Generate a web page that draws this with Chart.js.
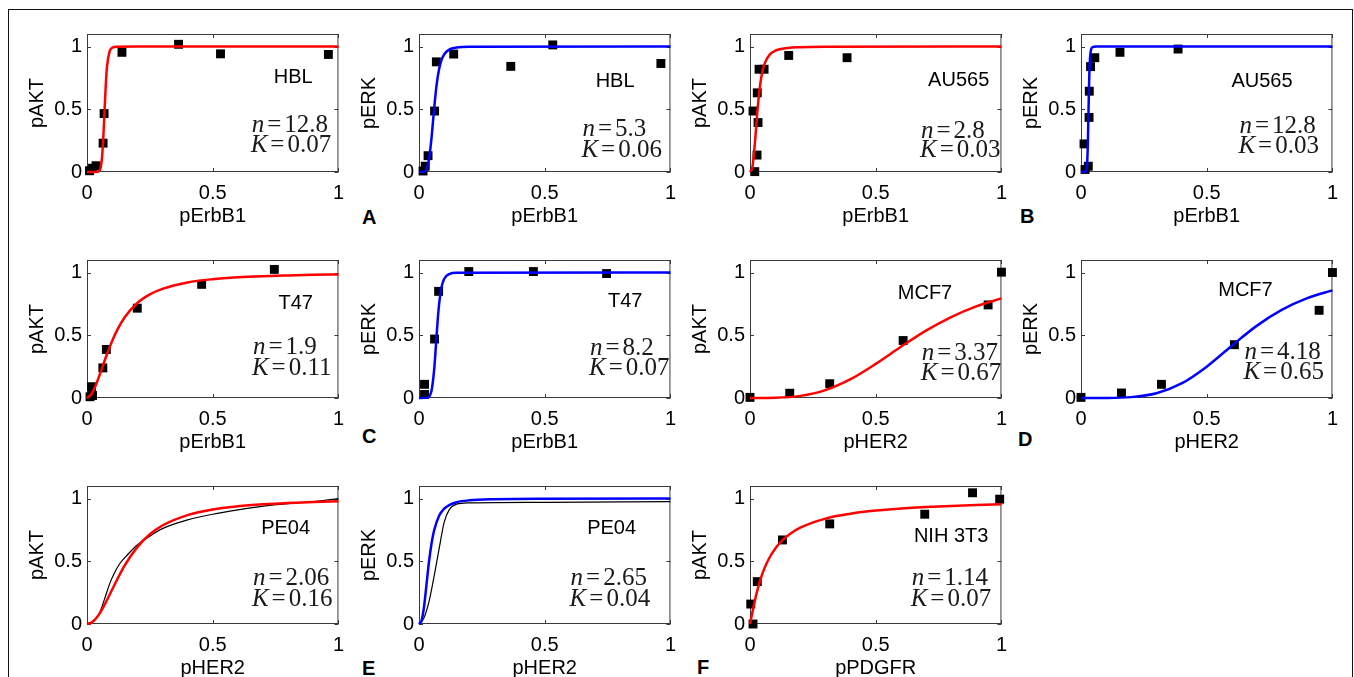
<!DOCTYPE html>
<html>
<head>
<meta charset="utf-8">
<script src="https://cdn.jsdelivr.net/npm/chart.js@4/dist/chart.umd.min.js"></script>
<style>
  body { margin: 0; background: #fff; width: 1354px; height: 677px; overflow: hidden; position: relative; }
  #frame { position: absolute; left: 8px; top: 9px; width: 1343px; height: 720px; border: 1.5px solid #111; }
  canvas { position: absolute; }
  .tag { position: absolute; font: bold 20px "Liberation Sans", Arial, sans-serif; line-height: 20px; color: #000; }
</style>
</head>
<body>
<div id="frame"></div>
<div class="tag" style="left:362px; top:207px">A</div>
<div class="tag" style="left:1020px; top:206px">B</div>
<div class="tag" style="left:362px; top:426px">C</div>
<div class="tag" style="left:1018px; top:429px">D</div>
<div class="tag" style="left:362px; top:658px">E</div>
<div class="tag" style="left:697px; top:657px">F</div>
<script>
// tick values shared by every axis
const tickVals = [0, 0.5, 1];

// A - HBL
const hblAktData = [[0.01, 0.01], [0.022, 0.03], [0.036, 0.05], [0.064, 0.23], [0.068, 0.466], [0.139, 0.954], [0.364, 1.018], [0.531, 0.942], [0.96, 0.937]];
const hblAktFit = [[0, 0], [0.04, 0.002], [0.05, 0.013], [0.055, 0.04], [0.06, 0.122], [0.065, 0.279], [0.07, 0.5], [0.075, 0.707], [0.08, 0.847], [0.09, 0.961], [0.1, 0.99], [0.12, 0.999], [0.2, 1], [1, 1]];
const hblErkData = [[0.016, 0.008], [0.025, 0.046], [0.036, 0.13], [0.062, 0.486], [0.069, 0.878], [0.138, 0.94], [0.365, 0.842], [0.532, 1.013], [0.962, 0.865]];
const hblErkFit = [[0, 0], [0.02, 0.003], [0.03, 0.025], [0.04, 0.104], [0.05, 0.276], [0.06, 0.5], [0.07, 0.694], [0.08, 0.821], [0.09, 0.896], [0.1, 0.937], [0.12, 0.975], [0.15, 0.992], [0.2, 0.998], [1, 1]];

// B - AU565
const au565AktData = [[0.012, 0.486], [0.019, 0.003], [0.028, 0.135], [0.032, 0.394], [0.029, 0.631], [0.036, 0.819], [0.056, 0.819], [0.154, 0.929], [0.386, 0.911]];
const au565AktFit = [[0, 0], [0.01, 0.044], [0.02, 0.243], [0.03, 0.5], [0.04, 0.691], [0.05, 0.807], [0.06, 0.874], [0.08, 0.94], [0.1, 0.967], [0.15, 0.989], [0.2, 0.995], [0.3, 0.998], [1, 1]];
const au565ErkData = [[0.012, 0.224], [0.016, 0.02], [0.029, 0.046], [0.032, 0.435], [0.033, 0.644], [0.038, 0.84], [0.055, 0.911], [0.155, 0.954], [0.386, 0.98]];
const au565ErkFit = [[0, 0], [0.02, 0.006], [0.024, 0.054], [0.027, 0.206], [0.03, 0.5], [0.033, 0.772], [0.036, 0.912], [0.04, 0.975], [0.045, 0.994], [0.06, 1], [1, 1]];

// C - T47
const t47AktData = [[0.012, 0.01], [0.018, 0.09], [0.022, 0.02], [0.063, 0.24], [0.077, 0.387], [0.2, 0.716], [0.456, 0.906], [0.745, 1.025]];
const t47AktFit = [[0, 0], [0.02, 0.038], [0.04, 0.128], [0.06, 0.24], [0.08, 0.353], [0.1, 0.455], [0.12, 0.541], [0.15, 0.643], [0.2, 0.757], [0.25, 0.826], [0.3, 0.87], [0.4, 0.921], [0.5, 0.947], [0.6, 0.962], [0.7, 0.971], [0.8, 0.977], [0.9, 0.982], [1, 0.985]];
const t47ErkData = [[0.022, 0.028], [0.022, 0.109], [0.062, 0.47], [0.078, 0.85], [0.198, 1.008], [0.455, 1.008], [0.746, 0.992]];
const t47ErkFit = [[0, 0], [0.03, 0.001], [0.04, 0.01], [0.05, 0.059], [0.06, 0.22], [0.065, 0.35], [0.07, 0.5], [0.075, 0.638], [0.08, 0.749], [0.09, 0.887], [0.1, 0.949], [0.12, 0.988], [0.15, 0.998], [1, 1]];

// D - MCF7
const mcf7AktData = [[0, 0.005], [0.158, 0.038], [0.317, 0.114], [0.609, 0.458], [0.947, 0.742], [1, 1.003]];
const mcf7AktFit = [[0, 0], [0.1, 0.002], [0.2, 0.017], [0.3, 0.063], [0.4, 0.15], [0.5, 0.272], [0.6, 0.408], [0.7, 0.537], [0.8, 0.645], [0.9, 0.73], [1, 0.794]];
const mcf7ErkData = [[0, 0.005], [0.161, 0.04], [0.32, 0.109], [0.61, 0.425], [0.947, 0.699], [1, 1]];
const mcf7ErkFit = [[0, 0], [0.1, 0.0004], [0.2, 0.007], [0.3, 0.038], [0.4, 0.116], [0.5, 0.25], [0.6, 0.417], [0.7, 0.577], [0.8, 0.704], [0.9, 0.796], [1, 0.858]];

// E - PE04 (black = measured curve, colour = fit)
const pe04AktMeas = [[0, 0], [0.03, 0.03], [0.05, 0.09], [0.07, 0.2], [0.09, 0.32], [0.11, 0.41], [0.13, 0.48], [0.16, 0.55], [0.2, 0.63], [0.25, 0.7], [0.3, 0.76], [0.4, 0.83], [0.5, 0.875], [0.6, 0.91], [0.7, 0.94], [0.8, 0.96], [0.9, 0.975], [1, 1]];
const pe04AktFit = [[0, 0], [0.02, 0.014], [0.05, 0.083], [0.08, 0.193], [0.1, 0.275], [0.15, 0.467], [0.2, 0.613], [0.25, 0.715], [0.3, 0.785], [0.4, 0.868], [0.5, 0.913], [0.6, 0.938], [0.7, 0.954], [0.8, 0.965], [0.9, 0.972], [1, 0.978]];
const pe04ErkMeas = [[0, 0], [0.02, 0.05], [0.04, 0.18], [0.06, 0.38], [0.08, 0.6], [0.1, 0.81], [0.12, 0.91], [0.15, 0.955], [0.2, 0.965], [0.5, 0.97], [1, 0.975]];
const pe04ErkFit = [[0, 0], [0.01, 0.025], [0.02, 0.137], [0.03, 0.318], [0.04, 0.5], [0.05, 0.644], [0.06, 0.745], [0.08, 0.863], [0.1, 0.919], [0.12, 0.948], [0.15, 0.971], [0.2, 0.986], [0.3, 0.995], [0.5, 0.999], [1, 1]];

// F - NIH 3T3
const nihAktData = [[0.003, 0.159], [0.012, 0.0], [0.029, 0.338], [0.129, 0.67], [0.317, 0.798], [0.695, 0.875], [0.885, 1.046], [0.993, 0.995]];
const nihAktFit = [[0, 0], [0.01, 0.098], [0.02, 0.193], [0.04, 0.346], [0.06, 0.456], [0.08, 0.538], [0.1, 0.6], [0.13, 0.67], [0.17, 0.733], [0.2, 0.768], [0.3, 0.84], [0.4, 0.879], [0.5, 0.904], [0.6, 0.92], [0.7, 0.932], [0.8, 0.941], [0.9, 0.948], [1, 0.954]];

const cellNames = ['HBL', 'HBL', 'AU565', 'AU565', 'T47', 'T47', 'MCF7', 'MCF7', 'PE04', 'PE04', 'NIH 3T3'];
const hillN = ['12.8', '5.3', '2.8', '12.8', '1.9', '8.2', '3.37', '4.18', '2.06', '2.65', '1.14'];
const hillK = ['0.07', '0.06', '0.03', '0.03', '0.11', '0.07', '0.67', '0.65', '0.16', '0.04', '0.07'];

const RED = '#ff0000';
const BLUE = '#0000ff';
const sansFont = '"Liberation Sans", Arial, sans-serif';
const serifFont = '"Liberation Serif", "Times New Roman", serif';

const colLeft = [87, 419, 750, 1081];
const rowTop = [29, 255, 481];
const plotW = 252, plotH = 143;
const yAxisW = 80, xAxisH = 56, padTop = 12, padRight = 14;

const panels = [
  { row: 0, col: 0, yLab: 'pAKT', xLab: 'pErbB1', color: RED, data: hblAktData, fit: hblAktFit, name: [0.82, 0.75], nk: [0.655, 0.32, 0.16] },
  { row: 0, col: 1, yLab: 'pERK', xLab: 'pErbB1', color: BLUE, data: hblErkData, fit: hblErkFit, name: [0.78, 0.72], nk: [0.65, 0.29, 0.12] },
  { row: 0, col: 2, yLab: 'pAKT', xLab: 'pErbB1', color: RED, data: au565AktData, fit: au565AktFit, name: [0.83, 0.73], nk: [0.68, 0.275, 0.12] },
  { row: 0, col: 3, yLab: 'pERK', xLab: 'pErbB1', color: BLUE, data: au565ErkData, fit: au565ErkFit, name: [0.72, 0.72], nk: [0.63, 0.31, 0.153] },
  { row: 1, col: 0, yLab: 'pAKT', xLab: 'pErbB1', color: RED, data: t47AktData, fit: t47AktFit, name: [0.83, 0.755], nk: [0.66, 0.35, 0.185] },
  { row: 1, col: 1, yLab: 'pERK', xLab: 'pErbB1', color: BLUE, data: t47ErkData, fit: t47ErkFit, name: [0.82, 0.77], nk: [0.68, 0.344, 0.18] },
  { row: 1, col: 2, yLab: 'pAKT', xLab: 'pHER2', color: RED, data: mcf7AktData, fit: mcf7AktFit, name: [0.696, 0.83], nk: [0.683, 0.306, 0.14] },
  { row: 1, col: 3, yLab: 'pERK', xLab: 'pHER2', color: BLUE, data: mcf7ErkData, fit: mcf7ErkFit, name: [0.654, 0.855], nk: [0.65, 0.31, 0.154] },
  { row: 2, col: 0, yLab: 'pAKT', xLab: 'pHER2', color: RED, meas: pe04AktMeas, fit: pe04AktFit, name: [0.79, 0.76], nk: [0.66, 0.31, 0.146] },
  { row: 2, col: 1, yLab: 'pERK', xLab: 'pHER2', color: BLUE, meas: pe04ErkMeas, fit: pe04ErkFit, name: [0.766, 0.76], nk: [0.603, 0.31, 0.146] },
  { row: 2, col: 2, yLab: 'pAKT', xLab: 'pPDGFR', color: RED, data: nihAktData, fit: nihAktFit, name: [0.80, 0.70], nk: [0.643, 0.31, 0.146] }
];

const toXY = (pts) => pts.map(([x, y]) => ({ x, y }));

// n=..., K=... in a LaTeX-ish look: italic symbol, upright value
function drawParam(ctx, x, y, sym, val) {
  ctx.font = 'italic 25px ' + serifFont;
  ctx.fillText(sym, x, y);
  let w = ctx.measureText(sym).width + 3;
  ctx.font = '25px ' + serifFont;
  ctx.fillText('=', x + w, y);
  w += ctx.measureText('=').width + 3;
  ctx.fillText(val, x + w, y);
}

function makeDecor(p, idx) {
  return {
    id: 'decor' + idx,
    beforeDatasetsDraw(chart) {
      const { ctx, chartArea: a, scales: { x, y } } = chart;
      ctx.save();
      ctx.strokeStyle = '#3a3a3a';
      ctx.lineWidth = 1;
      ctx.strokeRect(a.left + 0.5, a.top + 0.5, a.right - a.left - 1, a.bottom - a.top - 1);
      ctx.beginPath();
      tickVals.forEach(v => {
        const px = Math.round(x.getPixelForValue(v)) + 0.5;
        ctx.moveTo(px, a.bottom); ctx.lineTo(px, a.bottom - 4);
        ctx.moveTo(px, a.top); ctx.lineTo(px, a.top + 4);
        const py = Math.round(y.getPixelForValue(v)) + 0.5;
        ctx.moveTo(a.left, py); ctx.lineTo(a.left + 4, py);
        ctx.moveTo(a.right, py); ctx.lineTo(a.right - 4, py);
      });
      ctx.stroke();
      ctx.restore();
    },
    afterDatasetsDraw(chart) {
      const { ctx, scales: { x, y } } = chart;
      ctx.save();
      ctx.fillStyle = '#000';
      ctx.font = '20px ' + sansFont;
      ctx.textAlign = 'center';
      ctx.textBaseline = 'middle';
      ctx.fillText(cellNames[idx], x.getPixelForValue(p.name[0]), y.getPixelForValue(p.name[1]));
      ctx.fillStyle = '#1a1a1a';
      ctx.textAlign = 'left';
      ctx.textBaseline = 'alphabetic';
      const tx = x.getPixelForValue(p.nk[0]);
      drawParam(ctx, tx, y.getPixelForValue(p.nk[1]), 'n', hillN[idx]);
      drawParam(ctx, tx - 1, y.getPixelForValue(p.nk[2]), 'K', hillK[idx]);
      ctx.restore();
    }
  };
}

function axisOpts(min, max, title, isY) {
  return {
    type: 'linear',
    min: min,
    max: max,
    afterBuildTicks: (s) => { s.ticks = tickVals.map(v => ({ value: v })); },
    afterFit: (s) => { if (isY) { s.width = yAxisW; } else { s.height = xAxisH; } },
    grid: { display: false, drawTicks: false },
    border: { display: false },
    ticks: {
      padding: isY ? 5 : 9,
      color: '#000',
      autoSkip: false,
      maxRotation: 0,
      font: { family: sansFont, size: 20 },
      callback: (v) => String(v)
    },
    title: {
      display: true,
      text: title,
      color: '#000',
      font: { family: sansFont, size: 20, lineHeight: 1.2 },
      padding: isY ? { top: 18, bottom: 0 } : { top: 0, bottom: 0 }
    }
  };
}

panels.forEach((p, idx) => {
  const canvas = document.createElement('canvas');
  const w = yAxisW + plotW + padRight;
  const h = padTop + plotH + xAxisH;
  canvas.width = w;
  canvas.height = h;
  canvas.style.left = (colLeft[p.col] - yAxisW) + 'px';
  canvas.style.top = (rowTop[p.row] - padTop) + 'px';
  canvas.style.width = w + 'px';
  canvas.style.height = h + 'px';
  document.body.appendChild(canvas);

  const datasets = [];
  if (p.data) {
    datasets.push({
      label: 'data',
      data: toXY(p.data),
      pointStyle: 'rect',
      pointRadius: 6.3,
      backgroundColor: '#000',
      borderColor: '#000',
      borderWidth: 0,
      showLine: false,
      clip: false,
      order: 2
    });
  }
  if (p.meas) {
    datasets.push({
      label: 'measured',
      data: toXY(p.meas),
      showLine: true,
      pointRadius: 0,
      borderColor: '#000',
      borderWidth: 1.2,
      cubicInterpolationMode: 'monotone',
      clip: false,
      order: 2
    });
  }
  datasets.push({
    label: 'fit',
    data: toXY(p.fit),
    showLine: true,
    pointRadius: 0,
    borderColor: p.color,
    borderWidth: 2.5,
    cubicInterpolationMode: 'monotone',
    clip: false,
    order: 1
  });

  new Chart(canvas.getContext('2d'), {
    type: 'scatter',
    data: { datasets: datasets },
    options: {
      responsive: false,
      animation: false,
      devicePixelRatio: 1,
      events: [],
      layout: { padding: { top: padTop, right: padRight, left: 0, bottom: 0 } },
      plugins: { legend: { display: false }, tooltip: { enabled: false } },
      scales: {
        x: axisOpts(0, 1, p.xLab, false),
        y: axisOpts(0, 1.1, p.yLab, true)
      }
    },
    plugins: [makeDecor(p, idx)]
  });
});
</script>
</body>
</html>
